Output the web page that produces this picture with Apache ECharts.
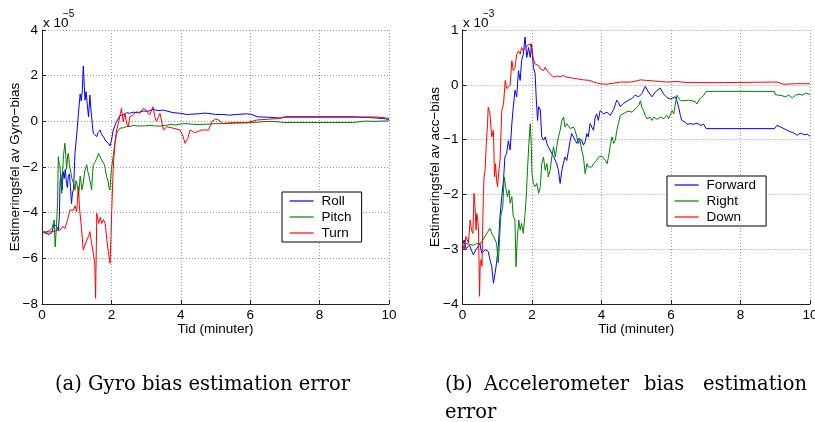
<!DOCTYPE html>
<html>
<head>
<meta charset="utf-8">
<script src="https://cdn.jsdelivr.net/npm/echarts@6/dist/echarts.min.js"></script>
<style>
  html, body { margin: 0; padding: 0; background: #fff; }
  #chart { width: 815px; height: 422px; }
</style>
</head>
<body>
<div id="chart"></div>
<script>
// Gyro bias estimation error, units of 1e-5, time in minutes: [t, value]
const gyroRoll = [[0,-4.83],[0.05,-4.85],[0.1,-4.9],[0.15,-4.88],[0.2,-4.95],[0.23,-5.0],[0.27,-4.9],[0.3,-4.8],[0.34,-4.5],[0.37,-4.45],[0.42,-4.6],[0.47,-4.76],[0.5,-4.2],[0.52,-2.7],[0.54,-2.3],[0.56,-2.6],[0.58,-3.0],[0.61,-2.2],[0.64,-2.5],[0.67,-2.1],[0.7,-2.6],[0.73,-2.9],[0.76,-2.4],[0.79,-2.3],[0.82,-2.9],[0.85,-3.6],[0.88,-3.1],[0.91,-3.0],[0.95,-1.4],[1.0,-0.6],[1.05,0.35],[1.1,1.2],[1.13,0.9],[1.16,1.3],[1.19,2.42],[1.22,1.5],[1.24,0.93],[1.27,1.3],[1.29,1.23],[1.32,0.5],[1.34,0.2],[1.37,0.9],[1.38,1.15],[1.41,0.5],[1.43,0.2],[1.46,-0.3],[1.48,-0.52],[1.53,-0.55],[1.58,-0.67],[1.61,-0.5],[1.65,-0.45],[1.68,-0.38],[1.71,-0.55],[1.74,-0.6],[1.78,-0.7],[1.82,-0.82],[1.86,-0.75],[1.91,-0.96],[1.96,-1.08],[2.0,-0.85],[2.05,-0.4],[2.1,-0.2],[2.15,0.0],[2.25,0.25],[2.36,0.3],[2.44,0.38],[2.52,0.35],[2.63,0.4],[2.75,0.38],[2.92,0.45],[3.05,0.44],[3.2,0.52],[3.35,0.47],[3.5,0.49],[3.6,0.45],[3.78,0.38],[3.99,0.35],[4.17,0.3],[4.27,0.31],[4.5,0.33],[4.7,0.36],[4.84,0.34],[5.0,0.3],[5.2,0.3],[5.4,0.27],[5.6,0.3],[5.9,0.33],[6.05,0.3],[6.2,0.2],[6.5,0.18],[6.8,0.15],[6.9,0.14],[7.0,0.2],[8.97,0.2],[9.16,0.18],[9.4,0.17],[9.65,0.14],[9.85,0.12],[10,0.08]];
const gyroPitch = [[0,-4.83],[0.05,-4.85],[0.1,-4.87],[0.15,-4.8],[0.19,-4.8],[0.25,-4.75],[0.3,-4.65],[0.33,-4.45],[0.35,-4.32],[0.38,-5.5],[0.42,-4.5],[0.45,-3.5],[0.47,-1.55],[0.5,-1.9],[0.52,-2.0],[0.55,-2.8],[0.57,-3.15],[0.6,-2.0],[0.62,-1.5],[0.66,-0.96],[0.69,-1.6],[0.71,-2.1],[0.74,-1.5],[0.76,-1.4],[0.79,-1.9],[0.81,-1.84],[0.84,-2.3],[0.86,-2.5],[0.9,-2.42],[0.93,-2.8],[0.95,-3.0],[0.98,-2.6],[1.0,-2.6],[1.03,-2.9],[1.05,-3.3],[1.08,-2.8],[1.1,-2.4],[1.13,-2.7],[1.15,-3.0],[1.19,-2.7],[1.22,-2.3],[1.24,-2.13],[1.27,-2.0],[1.29,-1.9],[1.32,-2.2],[1.34,-2.3],[1.37,-2.5],[1.38,-2.6],[1.41,-2.8],[1.43,-3.0],[1.46,-2.2],[1.48,-1.9],[1.52,-1.8],[1.58,-1.62],[1.61,-1.5],[1.63,-1.4],[1.66,-1.5],[1.68,-1.55],[1.72,-1.7],[1.77,-1.7],[1.8,-1.9],[1.82,-2.07],[1.86,-2.42],[1.9,-2.6],[1.93,-2.9],[1.96,-3.0],[1.98,-2.5],[2.0,-2.1],[2.05,-1.55],[2.1,-0.97],[2.15,-0.53],[2.2,-0.4],[2.25,-0.3],[2.35,-0.28],[2.44,-0.23],[2.55,-0.22],[2.63,-0.18],[2.75,-0.2],[2.82,-0.2],[2.95,-0.2],[3.1,-0.18],[3.25,-0.2],[3.4,-0.21],[3.55,-0.18],[3.69,-0.14],[3.85,-0.16],[3.98,-0.12],[4.15,-0.1],[4.27,-0.12],[4.5,-0.14],[4.7,-0.13],[4.84,-0.12],[5.0,-0.1],[5.2,-0.1],[5.5,-0.08],[5.8,-0.07],[6.0,-0.06],[6.2,-0.04],[6.4,-0.01],[6.6,0.0],[6.8,-0.02],[6.9,-0.04],[7.0,-0.05],[8.97,-0.05],[9.0,0.03],[9.3,0.01],[9.6,0.0],[9.8,0.01],[10,0.02]];
const gyroTurn = [[0,-4.83],[0.2,-4.85],[0.4,-4.8],[0.52,-4.76],[0.6,-4.6],[0.66,-4.7],[0.7,-4.5],[0.74,-4.3],[0.77,-4.1],[0.81,-3.88],[0.86,-3.8],[0.9,-3.9],[0.95,-3.7],[1.0,-3.95],[1.05,-2.86],[1.08,-3.8],[1.12,-4.4],[1.15,-4.47],[1.19,-5.63],[1.24,-5.7],[1.29,-5.2],[1.34,-5.05],[1.38,-4.83],[1.43,-5.35],[1.48,-5.78],[1.52,-6.2],[1.545,-7.75],[1.555,-6.5],[1.58,-4.03],[1.63,-4.47],[1.68,-4.2],[1.72,-4.47],[1.77,-4.3],[1.82,-4.47],[1.87,-5.2],[1.91,-5.7],[1.96,-6.22],[1.99,-5.0],[2.01,-3.9],[2.05,-2.13],[2.1,-0.96],[2.15,-0.38],[2.2,-0.1],[2.25,0.28],[2.29,0.57],[2.34,-0.02],[2.39,0.35],[2.44,-0.1],[2.49,-0.23],[2.53,0.2],[2.63,0.28],[2.72,0.42],[2.82,0.35],[2.92,0.57],[3.0,0.49],[3.1,0.28],[3.2,0.64],[3.25,0.2],[3.3,-0.01],[3.4,0.35],[3.5,-0.38],[3.6,-0.24],[3.78,-0.3],[3.98,-0.38],[4.07,-0.67],[4.12,-0.96],[4.2,-0.75],[4.27,-0.38],[4.4,-0.5],[4.6,-0.38],[4.8,-0.38],[4.9,-0.01],[5.0,0.1],[5.1,0.05],[5.2,-0.09],[5.6,-0.05],[5.9,-0.06],[6.2,0.06],[6.5,0.09],[6.8,0.12],[7.0,0.18],[8.97,0.18],[9.3,0.19],[9.65,0.19],[9.95,0.14],[10,0.14]];

// Accelerometer bias estimation error, units of 1e-3: [t, value]
const accForward = [[0,-2.92],[0.05,-2.83],[0.1,-2.99],[0.2,-2.93],[0.31,-3.1],[0.4,-3.0],[0.5,-2.89],[0.55,-3.07],[0.65,-3.01],[0.74,-3.04],[0.79,-3.19],[0.84,-3.31],[0.89,-3.62],[0.94,-3.43],[0.98,-3.25],[1.03,-2.95],[1.08,-2.4],[1.13,-2.04],[1.18,-1.74],[1.22,-1.32],[1.27,-1.25],[1.32,-1.02],[1.37,-1.19],[1.42,-0.71],[1.46,-0.41],[1.51,-0.1],[1.56,-0.22],[1.61,0.26],[1.66,0.08],[1.7,0.44],[1.75,0.56],[1.8,0.87],[1.85,0.5],[1.9,0.68],[1.95,0.5],[1.99,0.74],[2.04,0.32],[2.09,0.2],[2.12,-0.22],[2.16,-0.65],[2.19,-0.4],[2.24,-0.46],[2.28,-0.95],[2.33,-1.01],[2.38,-0.95],[2.43,-1.07],[2.47,-1.13],[2.52,-1.19],[2.62,-1.31],[2.71,-1.44],[2.76,-1.56],[2.81,-1.8],[2.86,-1.56],[2.9,-1.44],[2.95,-1.32],[3.0,-1.38],[3.05,-1.2],[3.1,-1.01],[3.14,-0.89],[3.19,-0.95],[3.24,-1.01],[3.29,-1.07],[3.34,-0.98],[3.38,-0.95],[3.43,-1.01],[3.48,-1.1],[3.53,-1.04],[3.58,-0.89],[3.62,-0.95],[3.67,-0.71],[3.77,-0.83],[3.82,-0.59],[3.86,-0.53],[3.91,-0.65],[3.96,-0.47],[4.06,-0.53],[4.16,-0.5],[4.25,-0.56],[4.35,-0.45],[4.44,-0.28],[4.49,-0.32],[4.54,-0.4],[4.63,-0.34],[4.78,-0.28],[4.87,-0.25],[4.97,-0.19],[5.07,-0.22],[5.16,-0.16],[5.26,-0.03],[5.35,-0.13],[5.45,-0.22],[5.55,-0.13],[5.69,-0.06],[5.79,-0.17],[5.88,-0.23],[5.98,-0.26],[6.12,-0.22],[6.17,-0.29],[6.22,-0.41],[6.27,-0.56],[6.31,-0.65],[6.41,-0.68],[6.46,-0.72],[6.56,-0.71],[6.65,-0.72],[6.75,-0.7],[6.85,-0.74],[6.94,-0.72],[7.01,-0.8],[8.98,-0.8],[9.05,-0.74],[9.15,-0.77],[9.25,-0.8],[9.34,-0.83],[9.44,-0.86],[9.53,-0.88],[9.63,-0.92],[9.73,-0.88],[9.82,-0.91],[9.92,-0.9],[10,-0.94]];
const accRight = [[0,-2.89],[0.1,-2.9],[0.2,-2.91],[0.31,-2.93],[0.4,-2.9],[0.5,-2.9],[0.6,-2.82],[0.7,-2.71],[0.79,-2.62],[0.84,-2.71],[0.89,-2.77],[0.94,-2.83],[0.98,-2.89],[1.03,-3.25],[1.06,-2.89],[1.1,-2.4],[1.16,-2.22],[1.2,-1.68],[1.24,-1.86],[1.29,-2.04],[1.34,-1.92],[1.37,-2.16],[1.42,-2.04],[1.46,-2.4],[1.51,-2.47],[1.54,-3.32],[1.58,-2.77],[1.62,-2.47],[1.66,-2.65],[1.7,-2.53],[1.75,-2.71],[1.8,-2.35],[1.83,-2.1],[1.87,-1.56],[1.91,-1.07],[1.95,-0.71],[1.98,-1.13],[2.0,-1.62],[2.04,-1.8],[2.09,-1.86],[2.14,-1.8],[2.19,-1.98],[2.24,-1.86],[2.28,-1.44],[2.33,-1.32],[2.38,-1.56],[2.43,-1.44],[2.47,-1.68],[2.52,-1.56],[2.57,-1.32],[2.62,-1.13],[2.67,-1.32],[2.71,-1.13],[2.76,-0.95],[2.81,-0.83],[2.86,-0.65],[2.91,-0.59],[2.95,-0.77],[3.0,-0.71],[3.1,-0.8],[3.19,-0.77],[3.24,-0.83],[3.29,-0.95],[3.34,-1.07],[3.38,-1.01],[3.43,-1.19],[3.48,-1.32],[3.53,-1.62],[3.58,-1.44],[3.62,-1.5],[3.67,-1.53],[3.72,-1.5],[3.77,-1.44],[3.86,-1.38],[3.91,-1.32],[3.96,-1.35],[4.01,-1.3],[4.06,-1.28],[4.11,-1.38],[4.16,-1.44],[4.2,-1.32],[4.25,-1.12],[4.3,-0.95],[4.35,-1.07],[4.4,-1.01],[4.44,-0.83],[4.49,-0.7],[4.54,-0.56],[4.59,-0.53],[4.7,-0.5],[4.78,-0.48],[4.88,-0.5],[4.97,-0.44],[5.07,-0.38],[5.12,-0.29],[5.16,-0.41],[5.21,-0.47],[5.26,-0.56],[5.31,-0.62],[5.4,-0.59],[5.45,-0.65],[5.5,-0.59],[5.6,-0.63],[5.69,-0.59],[5.79,-0.62],[5.88,-0.56],[5.93,-0.62],[5.98,-0.59],[6.03,-0.47],[6.08,-0.53],[6.12,-0.37],[6.17,-0.19],[6.22,-0.22],[6.27,-0.29],[6.31,-0.31],[6.41,-0.29],[6.5,-0.28],[6.6,-0.29],[6.7,-0.31],[6.75,-0.35],[6.82,-0.26],[6.88,-0.23],[6.94,-0.19],[7.01,-0.12],[8.98,-0.12],[9.0,-0.18],[9.1,-0.19],[9.2,-0.2],[9.29,-0.22],[9.39,-0.19],[9.49,-0.24],[9.58,-0.19],[9.68,-0.17],[9.78,-0.19],[9.87,-0.15],[9.97,-0.17],[10,-0.19]];
const accDown = [[0,-2.89],[0.05,-3.01],[0.1,-2.77],[0.17,-2.89],[0.22,-2.47],[0.26,-2.65],[0.3,-2.71],[0.33,-1.98],[0.36,-2.22],[0.39,-2.65],[0.41,-2.35],[0.44,-2.47],[0.46,-2.65],[0.49,-3.86],[0.51,-3.25],[0.54,-3.19],[0.56,-3.31],[0.6,-2.04],[0.62,-1.68],[0.65,-1.56],[0.68,-1.13],[0.72,-0.71],[0.74,-0.41],[0.79,-0.53],[0.84,-0.95],[0.89,-0.83],[0.92,-1.68],[0.95,-1.44],[0.98,-1.74],[1.01,-1.86],[1.04,-1.62],[1.08,-1.38],[1.13,-0.47],[1.18,-0.35],[1.23,0.08],[1.27,-0.07],[1.32,-0.1],[1.37,-0.01],[1.42,0.44],[1.46,0.26],[1.51,0.32],[1.56,0.56],[1.61,0.62],[1.66,0.56],[1.7,0.68],[1.75,0.62],[1.8,0.65],[1.85,0.71],[1.9,0.68],[1.95,0.75],[1.99,0.65],[2.04,0.47],[2.09,0.38],[2.19,0.35],[2.24,0.29],[2.28,0.29],[2.33,0.26],[2.38,0.32],[2.43,0.26],[2.47,0.23],[2.52,0.2],[2.62,0.14],[2.71,0.16],[2.81,0.15],[2.91,0.17],[3.0,0.14],[3.1,0.13],[3.19,0.12],[3.29,0.11],[3.48,0.09],[3.67,0.08],[3.77,0.05],[3.96,0.02],[4.15,0.01],[4.35,0.03],[4.54,0.05],[4.83,0.05],[5.0,0.07],[5.12,0.09],[5.3,0.08],[5.5,0.07],[5.7,0.06],[5.88,0.05],[6.17,0.06],[6.46,0.04],[6.75,0.04],[7.5,0.04],[8.96,0.05],[9.05,0.05],[9.25,0.01],[9.6,0.02],[10,0.02]];

const xTicks = { min: 0, max: 10, interval: 2 };
const gyroTicks = { min: -8, max: 4, interval: 2 };
const accTicks = { min: -4, max: 1, interval: 1 };

const BLUE = '#0000ff', GREEN = '#008000', RED = '#ff0000';
const FONT = '"Liberation Sans", Arial, Helvetica, sans-serif';
const SERIF = '"DejaVu Serif", "Liberation Serif", serif';
const FS = 13.5;

const fmt = v => (v < 0 ? '\u2212' + (-v) : String(v));

function xAxisFor(gridIndex) {
  return {
    type: 'value', gridIndex,
    min: xTicks.min, max: xTicks.max, interval: xTicks.interval,
    name: 'Tid (minuter)', nameLocation: 'middle', nameGap: 18, nameMoveOverlap: false,
    nameTextStyle: { fontFamily: FONT, fontSize: FS, color: '#000' },
    axisLine: { show: true, onZero: false, lineStyle: { color: '#222', width: 1 } },
    axisTick: { show: true, inside: true, length: 4, lineStyle: { color: '#222' } },
    axisLabel: { margin: 4, fontFamily: FONT, fontSize: FS, color: '#000', formatter: fmt },
    splitLine: { show: true, lineStyle: { color: '#999', type: [1, 2], width: 1 } }
  };
}
function yAxisFor(gridIndex, ticks, name) {
  return {
    type: 'value', gridIndex,
    min: ticks.min, max: ticks.max, interval: ticks.interval,
    name, nameLocation: 'middle', nameGap: 20, nameMoveOverlap: false,
    nameTextStyle: { fontFamily: FONT, fontSize: FS, color: '#000' },
    axisLine: { show: true, onZero: false, lineStyle: { color: '#222', width: 1 } },
    axisTick: { show: true, inside: true, length: 4, lineStyle: { color: '#222' } },
    axisLabel: { margin: 4, fontFamily: FONT, fontSize: FS, color: '#000', formatter: fmt },
    splitLine: { show: true, lineStyle: { color: '#999', type: [1, 2], width: 1 } }
  };
}
function lineSeries(name, data, color, xi) {
  return {
    name, type: 'line', data, xAxisIndex: xi, yAxisIndex: xi,
    symbol: 'none', animation: false, silent: true,
    lineStyle: { color, width: 1 }, itemStyle: { color }
  };
}
function legendFor(names, left, top) {
  return {
    data: names, orient: 'vertical', left, top,
    backgroundColor: '#fff', borderColor: '#000', borderWidth: 1, borderRadius: 0,
    padding: [2, 10, 2, 7], itemWidth: 24, itemHeight: 14, itemGap: 2,
    selectedMode: false,
    itemStyle: { opacity: 0 },
    lineStyle: { width: 1.2 },
    textStyle: { fontFamily: FONT, fontSize: FS, color: '#000', padding: [0, 0, 0, 3] }
  };
}
function exponentLabel(x, exp) {
  return [
    { type: 'text', left: x, top: 16, style: { text: 'x 10', fontFamily: FONT, fontSize: FS, fill: '#000' } },
    { type: 'text', left: x + 20, top: 9, style: { text: '\u2212' + exp, fontFamily: FONT, fontSize: 10, fill: '#000' } }
  ];
}
function caption(text, left, top) {
  return { type: 'text', left, top, style: { text, fontFamily: SERIF, fontSize: 19.5, fill: '#000' } };
}

const chart = echarts.init(document.getElementById('chart'), null, { renderer: 'canvas' });
chart.setOption({
  animation: false,
  backgroundColor: '#fff',
  grid: [
    { left: 42, top: 30, width: 347, height: 274, outerBoundsMode: 'none' },
    { left: 462.5, top: 30, width: 347.5, height: 274, outerBoundsMode: 'none' }
  ],
  xAxis: [xAxisFor(0), xAxisFor(1)],
  yAxis: [
    yAxisFor(0, gyroTicks, 'Estimeringsfel av Gyro\u2212bias'),
    yAxisFor(1, accTicks, 'Estimeringsfel av acc\u2212bias')
  ],
  legend: [
    legendFor(['Roll', 'Pitch', 'Turn'], 282, 192),
    legendFor(['Forward', 'Right', 'Down'], 667, 176)
  ],
  series: [
    lineSeries('Roll', gyroRoll, BLUE, 0),
    lineSeries('Pitch', gyroPitch, GREEN, 0),
    lineSeries('Turn', gyroTurn, RED, 0),
    lineSeries('Forward', accForward, BLUE, 1),
    lineSeries('Right', accRight, GREEN, 1),
    lineSeries('Down', accDown, RED, 1)
  ],
  graphic: [
    ...exponentLabel(43, 5),
    ...exponentLabel(463, 3),
    caption('(a) Gyro bias estimation error', 55, 375),
    caption('(b)', 445, 375),
    caption('Accelerometer', 484, 375),
    caption('bias', 644, 375),
    caption('estimation', 703, 375),
    caption('error', 445, 403)
  ]
});
</script>
</body>
</html>
